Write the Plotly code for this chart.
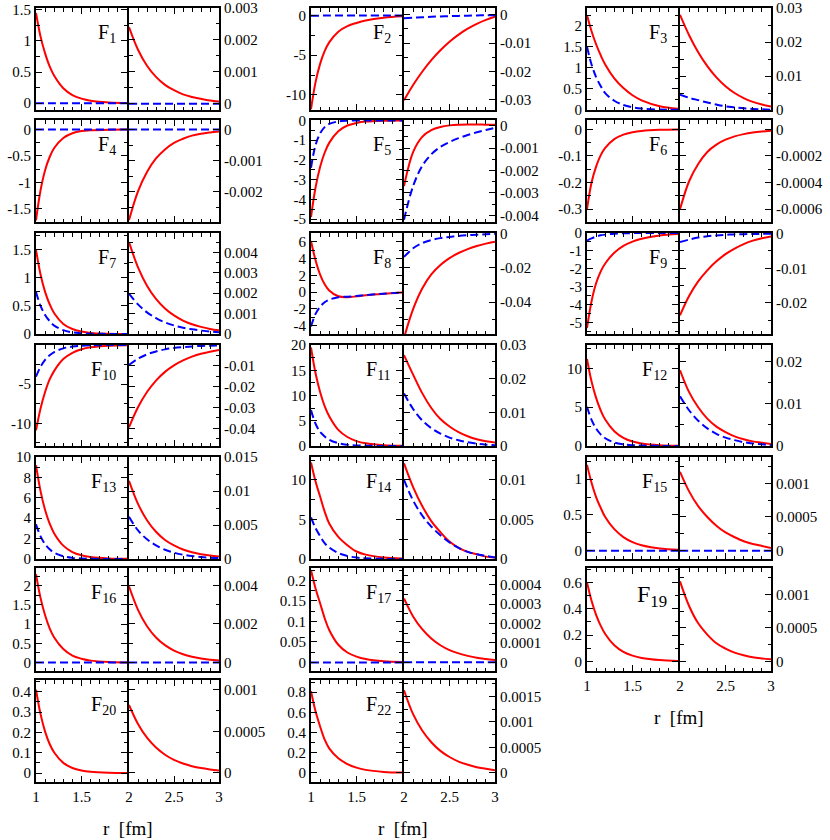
import plotly.graph_objects as go

# ---------------- data ----------------
rL = [1.0, 1.05, 1.1, 1.15, 1.2, 1.3, 1.4, 1.5, 1.6, 1.8, 2.0]
rR = [2.0, 2.1, 2.2, 2.3, 2.4, 2.5, 2.6, 2.7, 2.8, 2.9, 3.0]
ZERO = [0, 0, 0, 0, 0, 0, 0, 0, 0, 0, 0]

F1_red_L = [1.45, 1.07, 0.80, 0.59, 0.44, 0.24, 0.13, 0.073, 0.04, 0.012, 0.004]
F1_red_R = [0.0024, 0.00169, 0.00119, 0.00084, 0.00059, 0.00042, 0.00029, 0.00021, 0.00015, 0.0001, 0.00007]

F4_red_L = [-1.72, -1.15, -0.77, -0.52, -0.35, -0.16, -0.07, -0.03, -0.014, -0.003, -0.0005]
F4_red_R = [-0.0029, -0.00198, -0.00136, -0.00093, -0.00064, -0.00043, -0.0003, -0.0002, -0.00014, -0.0001, -0.00007]

F7_red_L = [1.5, 1.06, 0.75, 0.53, 0.37, 0.18, 0.09, 0.045, 0.02, 0.005, 0.001]
F7_blue_L = [0.75, 0.50, 0.34, 0.23, 0.15, 0.068, 0.03, 0.014, 0.006, 0.0013, 0.0002]
F7_red_R = [0.0045, 0.00327, 0.00237, 0.00172, 0.00125, 0.00091, 0.00066, 0.00048, 0.00035, 0.00025, 0.00018]
F7_blue_R = [0.00198, 0.00145, 0.00106, 0.00078, 0.00057, 0.00042, 0.00031, 0.00023, 0.00017, 0.00012, 0.00009]

F10_red_L = [-10.9, -8.1, -6.0, -4.4, -3.3, -1.8, -1.0, -0.55, -0.3, -0.09, -0.03]
F10_blue_L = [-4.05, -2.78, -1.91, -1.32, -0.90, -0.43, -0.20, -0.095, -0.045, -0.01, -0.002]
F10_red_R = [-0.0395, -0.0299, -0.0226, -0.0171, -0.0129, -0.0098, -0.0074, -0.0056, -0.0042, -0.0032, -0.0024]
F10_blue_R = [-0.0096, -0.0066, -0.0045, -0.0031, -0.0021, -0.0014, -0.001, -0.00067, -0.00046, -0.00032, -0.00021]

F13_red_L = [9.2, 6.65, 4.8, 3.47, 2.51, 1.31, 0.68, 0.36, 0.19, 0.05, 0.014]
F13_blue_L = [3.4, 2.22, 1.45, 0.95, 0.62, 0.27, 0.11, 0.05, 0.02, 0.004, 0.001]
F13_red_R = [0.0115, 0.0081, 0.0057, 0.0040, 0.0028, 0.002, 0.0014, 0.001, 0.0007, 0.0005, 0.00035]
F13_blue_R = [0.0062, 0.0042, 0.0029, 0.002, 0.00136, 0.00093, 0.00063, 0.00043, 0.0003, 0.0002, 0.00014]

F16_red_L = [2.3, 1.68, 1.23, 0.89, 0.65, 0.35, 0.18, 0.1, 0.05, 0.015, 0.004]
F16_red_R = [0.00395, 0.00273, 0.00188, 0.0013, 0.0009, 0.00062, 0.00043, 0.0003, 0.00021, 0.00014, 0.0001]

F20_red_L = [0.41, 0.29, 0.204, 0.143, 0.101, 0.05, 0.025, 0.0123, 0.006, 0.0015, 0.0004]
F20_red_R = [0.00082, 0.00059, 0.000424, 0.000305, 0.000219, 0.000157, 0.000113, 0.000081, 0.000058, 0.000042, 0.00003]

F2_red_L = [-11.8, -8.4, -6.1, -4.5, -3.4, -2.05, -1.35, -0.95, -0.65, -0.3, -0.12]
F2_blue_L = [-0.05, -0.04, -0.03, -0.02, -0.015, -0.01, -0.005, -0.003, -0.002, -0.001, 0]
F2_red_R = [-0.0302, -0.0248, -0.0201, -0.016, -0.0125, -0.0095, -0.007, -0.0049, -0.0032, -0.0018, -0.0007]
F2_blue_R = [-0.0012, -0.001, -0.00085, -0.0007, -0.00058, -0.00047, -0.00038, -0.0003, -0.00023, -0.00017, -0.00012]

F5_red_L = [-4.9, -3.4, -2.36, -1.64, -1.14, -0.55, -0.26, -0.13, -0.06, -0.015, -0.003]
F5_blue_L = [-2.4, -1.25, -0.66, -0.34, -0.18, -0.05, -0.013, -0.004, -0.001, 0, 0]
F5_red_R = [-0.0027, -0.00118, -0.0005, -0.0002, -0.00006, 0.00001, 0.00004, 0.00005, 0.00005, 0.00004, 0.00004]
F5_blue_R = [-0.0042, -0.0027, -0.0018, -0.00128, -0.00095, -0.00073, -0.00056, -0.00042, -0.0003, -0.0002, -0.0001]

F8_red_L = [6.1, 3.8, 2.1, 0.95, 0.2, -0.5, -0.6, -0.5, -0.38, -0.2, -0.05]
F8_blue_L = [-4.1, -2.6, -1.75, -1.2, -0.9, -0.6, -0.55, -0.47, -0.36, -0.18, -0.04]
F8_red_R = [-0.061, -0.0442, -0.0321, -0.0238, -0.0183, -0.0143, -0.0113, -0.009, -0.0072, -0.0058, -0.0047]
F8_blue_R = [-0.0136, -0.0085, -0.0055, -0.0037, -0.0026, -0.0019, -0.0013, -0.0009, -0.0006, -0.0003, -0.0001]

F11_red_L = [19.5, 14.4, 10.7, 7.9, 5.9, 3.2, 1.78, 0.97, 0.53, 0.16, 0.05]
F11_blue_L = [7.1, 4.4, 2.8, 1.9, 1.25, 0.55, 0.25, 0.11, 0.05, 0.01, 0.002]
F11_red_R = [0.027, 0.0212, 0.0157, 0.0113, 0.008, 0.0058, 0.0041, 0.0029, 0.002, 0.0014, 0.001]
F11_blue_R = [0.0156, 0.011, 0.0076, 0.0053, 0.0037, 0.0025, 0.0017, 0.0011, 0.0007, 0.0004, 0.0002]

F14_red_L = [12.2, 9.8, 7.9, 6.0, 4.5, 2.8, 1.75, 0.95, 0.55, 0.18, 0.05]
F14_blue_L = [5.25, 3.9, 2.9, 2.0, 1.45, 0.75, 0.38, 0.18, 0.08, 0.02, 0.004]
F14_red_R = [0.0121, 0.0091, 0.0067, 0.0048, 0.0034, 0.0022, 0.0014, 0.0009, 0.0006, 0.0003, 0.0002]
F14_blue_R = [0.0100, 0.0074, 0.0055, 0.0041, 0.003, 0.0021, 0.0014, 0.0009, 0.0006, 0.0004, 0.0002]

F17_red_L = [0.225, 0.18, 0.144, 0.108, 0.079, 0.043, 0.024, 0.014, 0.008, 0.0025, 0.0008]
F17_red_R = [0.00033, 0.000237, 0.000171, 0.000123, 0.000088, 0.000063, 0.000046, 0.000033, 0.000023, 0.000017, 0.000012]

F22_red_L = [0.81, 0.61, 0.46, 0.33, 0.243, 0.145, 0.088, 0.052, 0.03, 0.01, 0.003]
F22_red_R = [0.00162, 0.00115, 0.00083, 0.0006, 0.00043, 0.00031, 0.00022, 0.00016, 0.00011, 0.00008, 0.00005]

F3_red_L = [2.25, 1.87, 1.56, 1.3, 1.08, 0.75, 0.52, 0.35, 0.23, 0.09, 0.03]
F3_blue_L = [1.5, 1.08, 0.78, 0.57, 0.4, 0.22, 0.12, 0.065, 0.035, 0.01, 0.003]
F3_red_R = [0.028, 0.0220, 0.0170, 0.0129, 0.0096, 0.0070, 0.0050, 0.0035, 0.0024, 0.0016, 0.001]
F3_blue_R = [0.0045, 0.0036, 0.0029, 0.0022, 0.0016, 0.0011, 0.0008, 0.0005, 0.0003, 0.0002, 0.0001]

F6_red_L = [-0.3, -0.2, -0.14, -0.098, -0.07, -0.037, -0.02, -0.011, -0.006, -0.002, -0.0007]
F6_red_R = [-0.0006, -0.00039, -0.00026, -0.00017, -0.000115, -0.000078, -0.000053, -0.000036, -0.000024, -0.000016, -0.00001]

F9_red_L = [-5.3, -3.8, -2.8, -2.15, -1.7, -1.1, -0.72, -0.48, -0.32, -0.14, -0.06]
F9_blue_L = [-0.42, -0.3, -0.2, -0.13, -0.09, -0.04, -0.018, -0.008, -0.004, -0.001, 0]
F9_red_R = [-0.0236, -0.0180, -0.0138, -0.0106, -0.0080, -0.0059, -0.0043, -0.003, -0.002, -0.0013, -0.0008]
F9_blue_R = [-0.0024, -0.0017, -0.0011, -0.00075, -0.0005, -0.00033, -0.0002, -0.00013, -0.00008, -0.00005, -0.00003]

F12_red_L = [11.2, 8.3, 6.2, 4.6, 3.4, 1.9, 1.05, 0.58, 0.32, 0.1, 0.03]
F12_blue_L = [5.06, 3.35, 2.25, 1.5, 1.0, 0.46, 0.22, 0.1, 0.05, 0.011, 0.003]
F12_red_R = [0.018, 0.0128, 0.0092, 0.0065, 0.0046, 0.0033, 0.0023, 0.0016, 0.0011, 0.0008, 0.0005]
F12_blue_R = [0.0118, 0.0085, 0.006, 0.0042, 0.0029, 0.002, 0.0014, 0.0009, 0.0006, 0.0004, 0.0002]

F15_red_L = [1.2, 0.95, 0.75, 0.6, 0.47, 0.3, 0.19, 0.12, 0.075, 0.03, 0.012]
F15_red_R = [0.00117, 0.00088, 0.00066, 0.0005, 0.00037, 0.00027, 0.0002, 0.00014, 0.0001, 0.00007, 0.00004]

F19_red_L = [0.6, 0.46, 0.353, 0.271, 0.208, 0.122, 0.072, 0.043, 0.025, 0.009, 0.003]
F19_red_R = [0.0012, 0.00083, 0.00057, 0.0004, 0.00027, 0.00019, 0.00013, 0.00009, 0.00006, 0.000043, 0.00003]

# tick labels (y axes): (left axis, right axis)
T_F1 = ([0, 0.5, 1, 1.5], [0, 0.001, 0.002, 0.003])
T_F4 = ([0, -0.5, -1, -1.5], [0, -0.001, -0.002])
T_F7 = ([0, 0.5, 1, 1.5], [0, 0.001, 0.002, 0.003, 0.004])
T_F10 = ([-10, -5], [-0.01, -0.02, -0.03, -0.04])
T_F13 = ([0, 2, 4, 6, 8, 10], [0, 0.005, 0.01, 0.015])
T_F16 = ([0, 0.5, 1, 1.5, 2], [0, 0.002, 0.004])
T_F20 = ([0, 0.1, 0.2, 0.3, 0.4], [0, 0.0005, 0.001])
T_F2 = ([0, -5, -10], [0, -0.01, -0.02, -0.03])
T_F5 = ([0, -1, -2, -3, -4, -5], [0, -0.001, -0.002, -0.003, -0.004])
T_F8 = ([-4, -2, 0, 2, 4, 6], [0, -0.02, -0.04])
T_F11 = ([0, 5, 10, 15, 20], [0, 0.01, 0.02, 0.03])
T_F14 = ([0, 5, 10], [0, 0.005, 0.01])
T_F17 = ([0, 0.05, 0.1, 0.15, 0.2], [0, 0.0001, 0.0002, 0.0003, 0.0004])
T_F22 = ([0, 0.2, 0.4, 0.6, 0.8], [0, 0.0005, 0.001, 0.0015])
T_F3 = ([0, 0.5, 1, 1.5, 2], [0, 0.01, 0.02, 0.03])
T_F6 = ([0, -0.1, -0.2, -0.3], [0, -0.0002, -0.0004, -0.0006])
T_F9 = ([0, -1, -2, -3, -4, -5], [0, -0.01, -0.02])
T_F12 = ([0, 5, 10], [0, 0.01, 0.02])
T_F15 = ([0, 0.5, 1], [0, 0.0005, 0.001])
T_F19 = ([0, 0.2, 0.4, 0.6], [0, 0.0005, 0.001])

x_ticks_L = [1, 1.5]
x_text_L = ["1", "1.5"]
x_ticks_R = [2, 2.5, 3]
x_text_R = ["2", "2.5", "3"]

# ---------------- layout / styling ----------------
W, H = 830, 840
LW = 2
COL_X = [(36, 128, 219), (311, 403, 495), (587, 679, 771)]
ROW_Y = [(8, 110), (120, 222), (233, 334), (345, 446), (457, 559), (568, 671), (680, 782)]

# (label, col, row, redL, blueL, redR, blueR, ticks, yL range, yL minor, yR range, yR minor, label size)
panels = [
    ("1", 0, 0, F1_red_L, ZERO, F1_red_R, ZERO, T_F1, [-0.11, 1.53], 0.25, [-0.0002, 0.003], 0.0005, 20),
    ("4", 0, 1, F4_red_L, ZERO, F4_red_R, ZERO, T_F4, [-1.75, 0.18], 0.25, [-0.00296, 0.0003], 0.0005, 20),
    ("7", 0, 2, F7_red_L, F7_blue_L, F7_red_R, F7_blue_R, T_F7, [0, 1.8], 0.25, [0, 0.00495], 0.0005, 20),
    ("10", 0, 3, F10_red_L, F10_blue_L, F10_red_R, F10_blue_R, T_F10, [-12.9, 0], 2.5, [-0.0485, 0], 0.005, 20),
    ("13", 0, 4, F13_red_L, F13_blue_L, F13_red_R, F13_blue_R, T_F13, [0, 10], 1, [0, 0.015], 0.0025, 20),
    ("16", 0, 5, F16_red_L, ZERO, F16_red_R, ZERO, T_F16, [-0.22, 2.46], 0.25, [-0.00044, 0.0049], 0.001, 20),
    ("20", 0, 6, F20_red_L, None, F20_red_R, None, T_F20, [-0.044, 0.458], 0.05, [-0.00011, 0.00112], 0.00025, 20),
    ("2", 1, 0, F2_red_L, F2_blue_L, F2_red_R, F2_blue_R, T_F2, [-11.9, 0.93], 2.5, [-0.0336, 0.0024], 0.005, 20),
    ("5", 1, 1, F5_red_L, F5_blue_L, F5_red_R, F5_blue_R, T_F5, [-5.15, 0.02], 0.5, [-0.0043, 0.00025], 0.0005, 20),
    ("8", 1, 2, F8_red_L, F8_blue_L, F8_red_R, F8_blue_R, T_F8, [-5.0, 7.06], 1, [-0.0587, 0.0004], 0.01, 20),
    ("11", 1, 3, F11_red_L, F11_blue_L, F11_red_R, F11_blue_R, T_F11, [0, 20], 2.5, [0, 0.03], 0.005, 20),
    ("14", 1, 4, F14_red_L, F14_blue_L, F14_red_R, F14_blue_R, T_F14, [0, 12.9], 2.5, [0, 0.0129], 0.0025, 20),
    ("17", 1, 5, F17_red_L, ZERO, F17_red_R, ZERO, T_F17, [-0.021, 0.23], 0.025, [-0.000045, 0.000487], 0.00005, 20),
    ("22", 1, 6, F22_red_L, None, F22_red_R, None, T_F22, [-0.09, 0.92], 0.1, [-0.00018, 0.00182], 0.00025, 20),
    ("3", 2, 0, F3_red_L, F3_blue_L, F3_red_R, F3_blue_R, T_F3, [0, 2.42], 0.25, [0, 0.03], 0.005, 20),
    ("6", 2, 1, F6_red_L, None, F6_red_R, None, T_F6, [-0.348, 0.035], 0.05, [-0.000696, 0.00007], 0.0001, 20),
    ("9", 2, 2, F9_red_L, F9_blue_L, F9_red_R, F9_blue_R, T_F9, [-5.63, 0], 0.5, [-0.029, 0.0002], 0.005, 20),
    ("12", 2, 3, F12_red_L, F12_blue_L, F12_red_R, F12_blue_R, T_F12, [0, 13], 2.5, [0, 0.024], 0.005, 20),
    ("15", 2, 4, F15_red_L, ZERO, F15_red_R, ZERO, T_F15, [-0.117, 1.31], 0.25, [-0.000124, 0.00139], 0.00025, 20),
    ("19", 2, 5, F19_red_L, None, F19_red_R, None, T_F19, [-0.074, 0.71], 0.1, [-0.000146, 0.0014], 0.00025, 24),
]
bottom_row = {0: 6, 1: 6, 2: 5}

FONT = "Liberation Serif"
RED = dict(color="#ff0000", width=2, shape="spline", smoothing=1.0)
BLUE = dict(color="#0000ff", width=2, dash="8px,4px", shape="spline", smoothing=1.0)


def fmt(v):
    return "%g" % v


def minor(d):
    return dict(ticks="inside", ticklen=3.5, tickwidth=1.2, tickcolor="black",
                tickmode="linear", tick0=0, dtick=d, showgrid=False)


def axis_common():
    return dict(
        showline=True, linecolor="black", linewidth=LW, mirror="allticks",
        ticks="inside", ticklen=6, tickwidth=1.2, tickcolor="black",
        showgrid=False, zeroline=False, automargin=False,
        ticklabeloverflow="allow",
        tickfont=dict(family=FONT, size=15, color="black"),
    )


fig = go.Figure()
layout = {}
annotations = []
k = 0
for (lab, col, row, redL, blueL, redR, blueR, ticks, yrL, mnL, yrR, mnR, lsize) in panels:
    x0, xm, x1 = COL_X[col]
    yt, yb = ROW_Y[row]
    yd = [1 - yb / H, 1 - yt / H]
    show_x = (row == bottom_row[col])
    for side in ("L", "R"):
        k += 1
        xa = axis_common()
        ya = axis_common()
        if side == "L":
            xa.update(domain=[x0 / W, (xm - LW / 2) / W], range=[1, 2], tickmode="array",
                      tickvals=x_ticks_L, ticktext=x_text_L)
            ya.update(range=yrL, tickmode="array", tickvals=ticks[0],
                      ticktext=[fmt(v) for v in ticks[0]], side="left", minor=minor(mnL))
            xs, red, blue = rL, redL, blueL
        else:
            xa.update(domain=[(xm + LW / 2) / W, x1 / W], range=[2, 3], tickmode="array",
                      tickvals=x_ticks_R, ticktext=x_text_R)
            ya.update(range=yrR, tickmode="array", tickvals=ticks[1],
                      ticktext=[fmt(v) for v in ticks[1]], side="right", minor=minor(mnR))
            xs, red, blue = rR, redR, blueR
        xa.update(anchor="y%d" % k, showticklabels=show_x, minor=minor(0.1))
        ya.update(anchor="x%d" % k, domain=yd)
        layout["xaxis%d" % k] = xa
        layout["yaxis%d" % k] = ya
        fig.add_trace(go.Scatter(x=xs, y=red, mode="lines", line=RED,
                                 xaxis="x%d" % k, yaxis="y%d" % k, showlegend=False))
        if blue is not None:
            fig.add_trace(go.Scatter(x=xs, y=blue, mode="lines", line=BLUE,
                                     xaxis="x%d" % k, yaxis="y%d" % k, showlegend=False))
    annotations.append(dict(
        text="F<sub>%s</sub>" % lab, xref="paper", yref="paper",
        x=(xm - 10) / W, y=1 - (yt + 11) / H, xanchor="right", yanchor="top",
        showarrow=False, font=dict(family=FONT, size=lsize, color="black")))

for (cx, cy) in [(128, 828), (403, 828), (679, 717)]:
    annotations.append(dict(
        text="r&nbsp;&nbsp;[fm]", xref="paper", yref="paper", x=cx / W, y=1 - cy / H,
        xanchor="center", yanchor="middle", showarrow=False,
        font=dict(family=FONT, size=19, color="black")))

layout.update(
    width=W, height=H, autosize=False,
    margin=dict(l=0, r=0, t=0, b=0),
    paper_bgcolor="white", plot_bgcolor="white",
    showlegend=False, annotations=annotations,
    font=dict(family=FONT, color="black"),
)
fig.update_layout(**layout)
fig.write_html("out.html", config={"displayModeBar": False},
               post_script="document.body.style.margin='0px';")
